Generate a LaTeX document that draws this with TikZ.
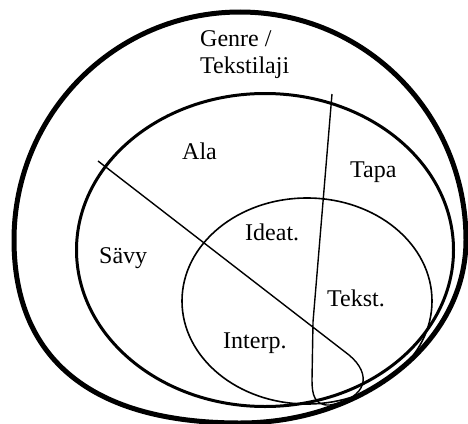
\documentclass[tikz,border=0pt]{standalone}
\usepackage{fontspec}
\setmainfont{Liberation Serif}
\begin{document}
\begin{tikzpicture}[x=1pt,y=-1pt,
  lbl/.style={anchor=base west,inner sep=0pt,font=\fontsize{24}{27}\selectfont},
  outerline/.style={line width=5pt},
  midline/.style={line width=3pt},
  thinline/.style={line width=1.6pt},
  cutline/.style={line width=1.4pt,line join=round}]
\useasboundingbox (0,0) rectangle (468,423);
% outer (genre)
\draw[outerline] (14,240) .. controls (14,114) and (115,12) .. (240,12)
  .. controls (365,12) and (466,114) .. (466,240)
  .. controls (466,341) and (365,423) .. (240,423)
  .. controls (93,423) and (14,360) .. cycle;
% middle (ala)
\draw[midline] (265,250) ellipse [x radius=188.5pt, y radius=156.5pt];
% inner
\draw[thinline] (307,301) ellipse [x radius=125pt, y radius=103pt];
% cut line with loop
\coordinate (cs) at (98,161);
\coordinate (ce) at (332,94);
\draw[cutline] (cs) -- (349,355) .. controls (372,374) and (368,398) .. (330,405)
  .. controls (314,406) and (312,394) .. (312,380) -- (313,322) -- (ce);
% labels
\node[lbl] (genre) at (200,46) {Genre /};
\node[lbl] (tekstilaji) at (200,73) {Tekstilaji};
\node[lbl] (ala) at (182,159) {Ala};
\node[lbl] (tapa) at (350,177) {Tapa};
\node[lbl] (savy) at (99,263) {Sävy};
\node[lbl] (ideat) at (245,240) {Ideat.};
\node[lbl] (tekst) at (327,306) {Tekst.};
\node[lbl] (interp) at (223,348) {Interp.};
\end{tikzpicture}
\end{document}
